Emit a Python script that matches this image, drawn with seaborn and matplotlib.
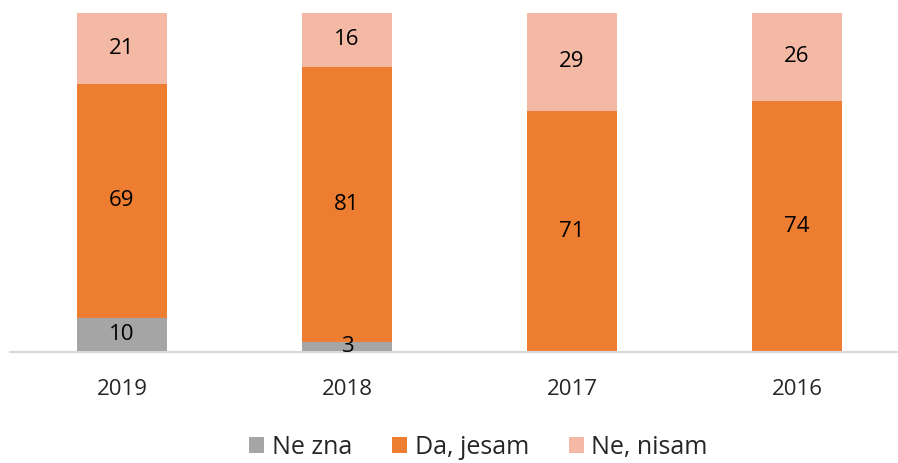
import matplotlib
matplotlib.use("Agg")
import matplotlib.pyplot as plt
import seaborn as sns
import pandas as pd
from matplotlib.patches import Patch

years = ["2019", "2018", "2017", "2016"]
ne_zna = [10, 3, 0, 0]
da_jesam = [69, 81, 71, 74]
ne_nisam = [21, 16, 29, 26]

series = ["Ne zna", "Da, jesam", "Ne, nisam"]
colors = ["#A5A5A5", "#ED7D31", "#F4B9A5"]

sns.set_style("white")
plt.rcParams["font.family"] = ["Open Sans", "DejaVu Sans"]

df = pd.DataFrame({"year": years, "Ne zna": ne_zna, "Da, jesam": da_jesam, "Ne, nisam": ne_nisam})
df["c1"] = df["Ne zna"]
df["c2"] = df["c1"] + df["Da, jesam"]
df["c3"] = df["c2"] + df["Ne, nisam"]

fig = plt.figure(figsize=(8.98, 4.63), dpi=100)
ax = fig.add_axes([9.5 / 898, 111.3 / 463, 888.5 / 898, 339.2 / 463])

# draw cumulative totals back to front to get stacked bars
for col, color in zip(["c3", "c2", "c1"], colors[::-1]):
    sns.barplot(data=df, x="year", y=col, color=color, width=0.4,
                saturation=1, ax=ax, order=years, linewidth=0)

for i in range(len(years)):
    bottom = 0
    for name in series:
        v = df[name].iloc[i]
        if v > 0:
            ax.text(i, bottom + v / 2, str(v), ha="center", va="center",
                    fontsize=16, color="black")
        bottom += v

ax.set_xlim(-0.5, 3.449)
ax.set_ylim(0, 100)
ax.set_xlabel("")
ax.set_ylabel("")
ax.set_yticks([])
for s in ["top", "right", "left"]:
    ax.spines[s].set_visible(False)
ax.spines["bottom"].set_color("#D9D9D9")
ax.spines["bottom"].set_linewidth(1.5)
ax.tick_params(axis="x", length=0, pad=20, labelsize=16)

handles = [Patch(facecolor=c, edgecolor="none") for c in colors]
fig.legend(handles, series, loc="center", bbox_to_anchor=(0.533, 0.034),
           ncol=3, frameon=False, fontsize=18, handlelength=0.6,
           handleheight=0.6, handletextpad=0.3, columnspacing=1.6)

fig.savefig("out.png", dpi=100)
